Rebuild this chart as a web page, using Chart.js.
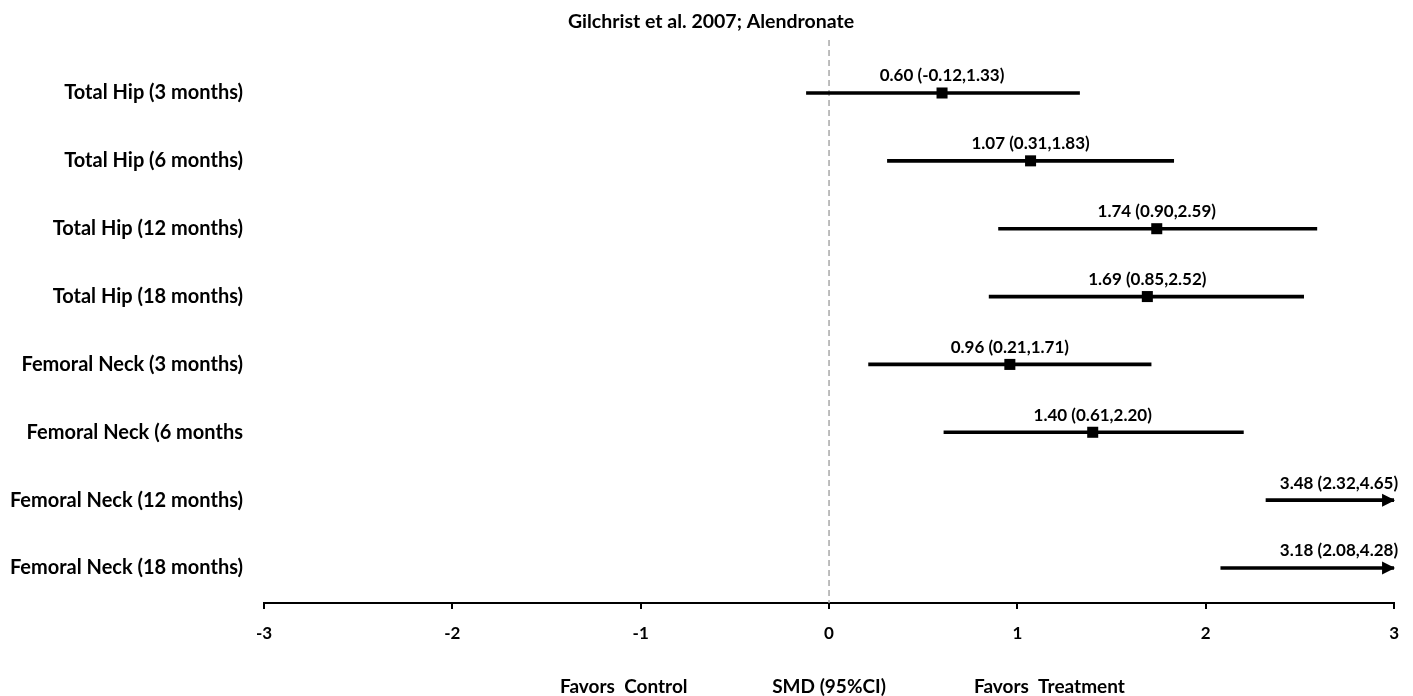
<!DOCTYPE html>
<html>
<head>
<meta charset="utf-8">
<script src="https://cdn.jsdelivr.net/npm/chart.js@4.4.1/dist/chart.umd.min.js"></script>
<style>
  html, body { margin: 0; padding: 0; background: #ffffff; }
  #wrap { width: 1413px; height: 696px; position: relative; }
</style>
</head>
<body>
<div id="wrap"><canvas id="c" width="1413" height="696"></canvas></div>
<script>
// ---- data ----
const titleText = 'Gilchrist et al. 2007; Alendronate';
const categories = [
  'Total Hip (3 months)',
  'Total Hip (6 months)',
  'Total Hip (12 months)',
  'Total Hip (18 months)',
  'Femoral Neck (3 months)',
  'Femoral Neck (6 months',
  'Femoral Neck (12 months)',
  'Femoral Neck (18 months)'
];
const estimates = [0.60, 1.07, 1.74, 1.69, 0.96, 1.40, 3.48, 3.18];
const lowerCI   = [-0.12, 0.31, 0.90, 0.85, 0.21, 0.61, 2.32, 2.08];
const upperCI   = [1.33, 1.83, 2.59, 2.52, 1.71, 2.20, 4.65, 4.28];
const xTicks = [-3, -2, -1, 0, 1, 2, 3];
const xTitle = 'SMD (95%CI)';
const leftNote = 'Favors  Control';
const rightNote = 'Favors  Treatment';

const FONT = 'Lato, "Open Sans", "DejaVu Sans", sans-serif';
const X_MIN = xTicks[0], X_MAX = xTicks[xTicks.length - 1];

const ciData = categories.map((c, i) => ({ y: i, x: [lowerCI[i], upperCI[i]] }));
const pointData = categories
  .map((c, i) => ({ y: i, x: estimates[i] }))
  .filter(p => p.x <= X_MAX);

const forestPlugin = {
  id: 'forestExtras',
  beforeDatasetsDraw(chart) {
    const { ctx, chartArea, scales: { x } } = chart;
    const px = x.getPixelForValue(0);
    ctx.save();
    ctx.strokeStyle = '#a8a8a8';
    ctx.lineWidth = 1.5;
    ctx.setLineDash([6, 4]);
    ctx.beginPath();
    ctx.moveTo(px, chartArea.top);
    ctx.lineTo(px, chartArea.bottom);
    ctx.stroke();
    ctx.restore();
  },
  afterDatasetsDraw(chart) {
    const { ctx, chartArea, scales: { x, y } } = chart;
    ctx.save();
    // title
    ctx.fillStyle = '#000';
    ctx.font = 'bold 19.5px ' + FONT;
    ctx.textAlign = 'center';
    ctx.textBaseline = 'middle';
    ctx.fillText(titleText, 711, 22);
    // arrow heads for intervals beyond the axis
    upperCI.forEach((hi, i) => {
      if (hi > X_MAX) {
        const tip = x.getPixelForValue(X_MAX) + 1;
        const py = y.getPixelForValue(i);
        ctx.beginPath();
        ctx.moveTo(tip, py);
        ctx.lineTo(tip - 13, py - 6.5);
        ctx.lineTo(tip - 13, py + 6.5);
        ctx.closePath();
        ctx.fill();
      }
    });
    // estimate labels
    ctx.font = 'bold 17px ' + FONT;
    estimates.forEach((est, i) => {
      const txt = est.toFixed(2) + ' (' + lowerCI[i].toFixed(2) + ',' + upperCI[i].toFixed(2) + ')';
      const py = y.getPixelForValue(i) - 17;
      if (est > X_MAX) {
        ctx.textAlign = 'right';
        ctx.fillText(txt, chartArea.right + 4, py);
      } else {
        ctx.textAlign = 'center';
        ctx.fillText(txt, x.getPixelForValue(est), py);
      }
    });
    // bottom notes
    ctx.font = 'bold 19px ' + FONT;
    ctx.textAlign = 'center';
    const by = 687;
    ctx.fillText(leftNote, x.getPixelForValue(-1.09), by);
    ctx.fillText(xTitle, x.getPixelForValue(0), by);
    ctx.fillText(rightNote, x.getPixelForValue(1.17), by);
    ctx.restore();
  }
};

new Chart(document.getElementById('c'), {
  type: 'bar',
  data: {
    datasets: [
      {
        type: 'bar',
        indexAxis: 'y',
        data: ciData,
        backgroundColor: '#000',
        borderWidth: 0,
        barThickness: 3,
        order: 2
      },
      {
        type: 'scatter',
        data: pointData,
        pointStyle: 'rect',
        pointRadius: 7.8,
        pointHoverRadius: 7.8,
        backgroundColor: '#000',
        borderWidth: 0,
        order: 1
      }
    ]
  },
  options: {
    responsive: false,
    animation: false,
    events: [],
    layout: { padding: { top: 40, left: 0, right: 18, bottom: 0 } },
    plugins: {
      legend: { display: false },
      tooltip: { enabled: false },
      title: { display: false }
    },
    scales: {
      x: {
        type: 'linear',
        position: 'bottom',
        offset: false,
        min: X_MIN,
        max: X_MAX,
        afterBuildTicks: s => { s.ticks = xTicks.map(v => ({ value: v })); },
        afterFit: s => { s.height = 93; },
        ticks: {
          color: '#000',
          padding: 14,
          font: { family: FONT, size: 17, weight: 'bold' },
          callback: v => String(v)
        },
        grid: { offset: false, drawOnChartArea: false, drawTicks: true, tickLength: 6, color: '#000', lineWidth: 2 },
        border: { display: true, color: '#000', width: 2 }
      },
      y: {
        type: 'linear',
        reverse: true,
        offset: false,
        min: -0.781,
        max: 7.516,
        afterBuildTicks: s => { s.ticks = categories.map((c, i) => ({ value: i })); },
        afterFit: s => { s.width = 264; },
        ticks: {
          color: '#000',
          padding: 21,
          font: { family: FONT, size: 20, weight: 'bold' },
          callback: v => categories[v] ?? ''
        },
        grid: { offset: false, display: false, drawTicks: false },
        border: { display: false }
      }
    }
  },
  plugins: [forestPlugin]
});
</script>
</body>
</html>
